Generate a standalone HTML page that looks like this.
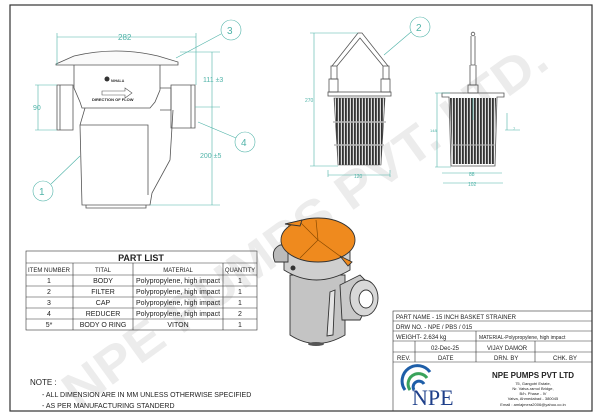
<!DOCTYPE html>
<html><head><meta charset="utf-8"><style>
html,body{margin:0;padding:0;background:#fff}
svg{display:block}
text{font-family:"Liberation Sans",sans-serif}
</style></head><body>
<svg width="600" height="419" viewBox="0 0 600 419" xmlns="http://www.w3.org/2000/svg">
<defs>
<pattern id="strip" width="3" height="10" patternUnits="userSpaceOnUse">
<rect width="3" height="10" fill="#ddd"/><rect width="1.8" height="10" fill="#333"/>
</pattern>
</defs>
<rect x="10" y="5" width="582" height="406" fill="none" stroke="#333" stroke-width="1.2"/>

<!-- watermark -->
<text x="0" y="0" transform="translate(78,410) rotate(-36)" font-size="50" font-weight="bold" fill="#ececec" textLength="585" lengthAdjust="spacingAndGlyphs">NPE PUMPS PVT. LTD.</text>

<!-- FRONT VIEW -->
<g stroke="#555" stroke-width="0.8" fill="none">
<path d="M56,64 L74,56 Q116,46 158,56 L178,62 L178,65 L56,65 Z" fill="#fafafa"/>
<path d="M74,65 L74,88 L80,102 L82,108 L150,108 L155,102 L160,90 L160,65"/>
<path d="M57,85 L73,85 L73,130 L57,130 Z"/>
<path d="M60,85 L60,130"/>
<path d="M160,88 L171,88 L171,110 L160,110"/>
<path d="M171,85 L195,85 L195,128 L171,128 Z"/>
<path d="M191,85 L191,128"/>
<path d="M85,108 L80,125 L82,205 L150,205 L152,193 L170,160 L173,110"/>
<path d="M80,125 L148,125 L148,195"/>
<path d="M86,205 L86,208 L146,208 L146,205"/>
<path d="M102,91 L125,91 L125,88 L132,93 L125,98 L125,95 L102,95 Z" stroke-width="0.6"/>
</g>
<circle cx="107" cy="79" r="2.5" fill="#333"/>
<text x="111" y="82" font-size="3.5" font-weight="bold" fill="#333">NIHALA</text>
<text x="92" y="101" font-size="4" font-weight="bold" fill="#222">DIRECTION OF FLOW</text>
<g stroke="#4fb3a8" stroke-width="0.6" fill="none">
<path d="M57,33 L57,65 M196,33 L196,85 M57,37 L196,37"/>
<path d="M180,52 L220,52 M195,107 L220,107 M150,205 L220,205 M212,52 L212,205"/>
<path d="M35,85 L57,85 M35,130 L57,130 M38,85 L38,130"/>
<circle cx="231" cy="30" r="10"/><circle cx="245" cy="142" r="10"/><circle cx="43" cy="191" r="10"/>
<path d="M221,34 L176,58 M236,138 L198,122 M51,184 L80,156"/>
</g>
<text x="118" y="40" font-size="8" fill="#4fb3a8">282</text>
<text x="203" y="82" font-size="7" fill="#4fb3a8">111 ±3</text>
<text x="200" y="158" font-size="7" fill="#4fb3a8">200 ±5</text>
<text x="33" y="110" font-size="7" fill="#4fb3a8">90</text>
<text x="227" y="34" font-size="10" fill="#4fb3a8">3</text>
<text x="241" y="146" font-size="10" fill="#4fb3a8">4</text>
<text x="39" y="195" font-size="10" fill="#4fb3a8">1</text>

<!-- BASKET VIEW 1 -->
<g stroke="#555" stroke-width="0.8" fill="none">
<path d="M332,66 L358,33 L362,33 L388,66 M337,66 L360,38 L383,66"/>
<rect x="331" y="66" width="6" height="13"/><rect x="383" y="66" width="6" height="13"/>
<rect x="329" y="79" width="9" height="13"/><rect x="381" y="79" width="9" height="13"/>
<rect x="328" y="92" width="63" height="4"/>
</g>
<path d="M334,98 L385,98 L381,165 L338,165 Z" fill="url(#strip)" stroke="#555" stroke-width="0.6"/>
<g stroke="#bbb" stroke-width="1.5"><path d="M333,122 L386,122 M334,145 L384,145"/></g>
<g stroke="#4fb3a8" stroke-width="0.6" fill="none">
<path d="M310,33 L358,33 M310,166 L338,166 M314,33 L314,166 M328,170 L328,177 M390,170 L390,177 M328,175 L390,175"/>
<circle cx="420" cy="27" r="10"/><path d="M411,32 L384,55"/>
</g>
<text x="305" y="102" font-size="5" fill="#4fb3a8">270</text>
<text x="354" y="178" font-size="5" fill="#4fb3a8">120</text>
<text x="416" y="31" font-size="10" fill="#4fb3a8">2</text>

<!-- BASKET VIEW 2 -->
<g stroke="#555" stroke-width="0.8" fill="none">
<circle cx="473" cy="34" r="1.8"/>
<path d="M471,36 L471,65 L475,65 L475,36 M470,65 L470,85 L476,85 L476,65"/>
<rect x="468" y="85" width="10" height="8"/>
<path d="M442,93 L504,93 L504,97 L497,97 L495,166 L451,166 L449,97 L442,97 Z"/>
</g>
<path d="M450,98 L496,98 L494,164 L452,164 Z" fill="url(#strip)"/>
<g stroke="#bbb" stroke-width="1"><path d="M451,145 L495,145"/></g>
<g stroke="#4fb3a8" stroke-width="0.6" fill="none">
<path d="M435,93 L450,93 M435,167 L451,167 M437,93 L437,167 M442,173 L502,173 M443,183 L503,183 M507,113 L507,130 M505,130 L520,130 M473,98 L473,120"/>
</g>
<text x="430" y="132" font-size="4" fill="#4fb3a8">148</text>
<text x="469" y="176" font-size="5" fill="#4fb3a8">88</text>
<text x="468" y="186" font-size="5" fill="#4fb3a8">102</text>
<text x="513" y="130" font-size="4" fill="#4fb3a8">7</text>

<!-- 3D VIEW -->
<g stroke="#333" stroke-width="0.9">
<path d="M290,275 L290,335 Q316,352 345,335 L345,275 Z" fill="#c4c4c4"/>
<path d="M284,250 L284,270 Q316,290 350,270 L350,250 Z" fill="#cfcfcf"/>
<path d="M280,245 Q270,250 275,262 L288,262 L288,245 Z" fill="#bbb"/>
<path d="M340,285 L360,275 L375,290 L360,320 L342,320 Z" fill="#c8c8c8"/>
<ellipse cx="364" cy="298" rx="14" ry="18" fill="#d8d8d8"/>
<ellipse cx="366" cy="299" rx="7" ry="9" fill="#fff"/>
<path d="M330,292 L335,290 L333,335 L327,336 Z" fill="#e4e4e4"/>
<ellipse cx="318" cy="240" rx="37" ry="22" fill="#ef8a1e"/>
<path d="M288,226 L300,222 L318,240 M318,240 L316,220 M318,240 L348,262 M318,240 L300,258" fill="none" stroke="#8a4a00" stroke-width="0.7"/>
<path d="M285,224 L302,220 L300,226 Z M340,256 L352,262 L348,266 Z" fill="#ef8a1e"/>
</g>
<circle cx="293" cy="268" r="2.5" fill="#333"/>
<ellipse cx="316" cy="344" rx="8" ry="2" fill="#555"/>

<!-- PART LIST -->
<g stroke="#333" stroke-width="0.6" fill="none">
<rect x="26" y="251" width="231" height="79"/>
<path d="M26,263 L257,263 M26,275 L257,275 M26,286 L257,286 M26,297 L257,297 M26,308 L257,308 M26,319 L257,319"/>
<path d="M73,263 L73,330 M133,263 L133,330 M223,263 L223,330"/>
</g>
<g font-size="7" fill="#222" text-anchor="middle">
<text x="141" y="261" font-size="9" font-weight="bold">PART LIST</text>
<text x="49" y="272" font-size="6">ITEM NUMBER</text><text x="103" y="272" font-size="6">TITAL</text><text x="178" y="272" font-size="6">MATERIAL</text><text x="240" y="272" font-size="6">QUANTITY</text>
<text x="49" y="283">1</text><text x="103" y="283">BODY</text><text x="178" y="283">Polypropylene, high impact</text><text x="240" y="283">1</text>
<text x="49" y="294">2</text><text x="103" y="294">FILTER</text><text x="178" y="294">Polypropylene, high impact</text><text x="240" y="294">1</text>
<text x="49" y="305">3</text><text x="103" y="305">CAP</text><text x="178" y="305">Polypropylene, high impact</text><text x="240" y="305">1</text>
<text x="49" y="316">4</text><text x="103" y="316">REDUCER</text><text x="178" y="316">Polypropylene, high impact</text><text x="240" y="316">2</text>
<text x="49" y="327">5*</text><text x="103" y="327">BODY O RING</text><text x="178" y="327">VITON</text><text x="240" y="327">1</text>
</g>

<!-- NOTE -->
<g font-size="7" fill="#222">
<text x="30" y="385" font-size="8">NOTE :</text>
<text x="42" y="397">- ALL DIMENSION ARE IN MM UNLESS OTHERWISE SPECIFIED</text>
<text x="42" y="408">- AS PER MANUFACTURING STANDERD</text>
</g>

<!-- TITLE BLOCK -->
<g stroke="#333" stroke-width="0.6" fill="none">
<rect x="393" y="311" width="199" height="100"/>
<path d="M393,321 L592,321 M393,331 L592,331 M393,341 L592,341 M393,352 L592,352 M393,362 L592,362"/>
<path d="M476,331 L476,362 M415,341 L415,362 M535,341 L535,362"/>
</g>
<g font-size="6" fill="#222">
<text x="396" y="319">PART NAME - 15 INCH BASKET STRAINER</text>
<text x="396" y="329">DRW NO. - NPE / PBS / 015</text>
<text x="396" y="339">WEIGHT- 2.634 kg</text>
<text x="479" y="339" font-size="5">MATERIAL-Polypropylene, high impact</text>
<text x="431" y="350">02-Dec-25</text><text x="487" y="350">VIJAY DAMOR</text>
<text x="397" y="360">REV.</text><text x="438" y="360">DATE</text><text x="494" y="360">DRN. BY</text><text x="553" y="360">CHK. BY</text>
</g>
<g fill="none" stroke-width="3">
<path d="M405,390 A14,14 0 0 1 430,372" stroke="#1e5ea8"/>
<path d="M410,390 A9,9 0 0 1 427,378" stroke="#3aa35b"/>
<path d="M414,390 A5,5 0 0 1 424,384" stroke="#1e5ea8"/>
</g>
<text x="412" y="405" style="font-family:'Liberation Serif',serif" font-size="22" fill="#1e3f8a">NPE</text>
<text x="533" y="378" font-size="8" font-weight="bold" fill="#222" text-anchor="middle">NPE PUMPS PVT LTD</text>
<g font-size="4" fill="#222" text-anchor="middle">
<text x="533" y="385">75, Gangotri Estate,</text>
<text x="533" y="390">Nr. Vatva-ramol Bridge,</text>
<text x="533" y="395">B/h. Phase - IV</text>
<text x="533" y="400">Vatva, Ahmedabad - 380045</text>
<text x="533" y="406">Email : amlajmera2006@yahoo.co.in</text>
</g>
</svg>
</body></html>
